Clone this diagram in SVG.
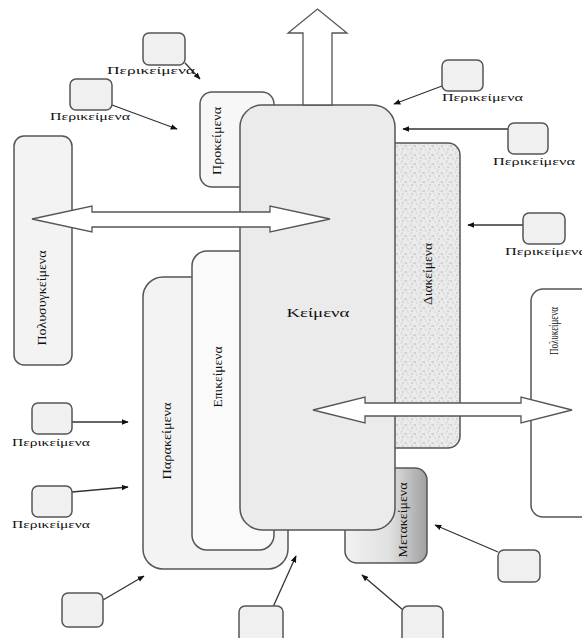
<svg xmlns="http://www.w3.org/2000/svg" width="582" height="638" viewBox="0 0 582 638">
<style>
.box{stroke:#555;stroke-width:1.5}
.sb{fill:#f0f0f0;stroke:#555;stroke-width:1.5}
.lbl{font-family:"Liberation Serif","Times New Roman",serif;font-size:10px;fill:#111}
.vt{font-family:"Liberation Serif","Times New Roman",serif;font-size:12px;fill:#111;text-anchor:middle}
.con{stroke:#333;stroke-width:1.3;fill:none;marker-end:url(#ah)}
.da{fill:#fff;stroke:#555;stroke-width:1.3}
</style>
<defs>
<marker id="ah" viewBox="0 0 10 10" refX="9" refY="5" markerWidth="7" markerHeight="7" orient="auto" markerUnits="userSpaceOnUse">
<path d="M0,1 L10,5 L0,9 z" fill="#111"/>
</marker>
<pattern id="stip" width="9" height="9" patternUnits="userSpaceOnUse">
<rect width="9" height="9" fill="#ebebeb"/>
<circle cx="1" cy="2" r="0.7" fill="#a4a4a4"/>
<circle cx="5" cy="1" r="0.6" fill="#bcbcbc"/>
<circle cx="7" cy="5" r="0.7" fill="#aaa"/>
<circle cx="3" cy="6" r="0.6" fill="#b8b8b8"/>
<circle cx="6" cy="8" r="0.5" fill="#a0a0a0"/>
<circle cx="2" cy="4" r="0.5" fill="#c8c8c8"/>
<circle cx="8" cy="2" r="0.5" fill="#b8b8b8"/>
</pattern>
<linearGradient id="mg" x1="0" y1="0" x2="1" y2="0">
<stop offset="0" stop-color="#f2f2f2"/>
<stop offset="0.55" stop-color="#e0e0e0"/>
<stop offset="1" stop-color="#a0a0a0"/>
</linearGradient>
</defs>

<g id="polykeimena">
<rect class="box" x="531" y="289" width="70" height="228" rx="12" fill="#fff"/>
<text class="vt" style="font-size:13px" transform="translate(558,331) rotate(-90)" textLength="48" lengthAdjust="spacingAndGlyphs">Πολυκείμενα</text>
</g>
<g id="diakeimena">
<rect class="box" x="380" y="143" width="80" height="305" rx="12" fill="url(#stip)"/>
<text class="vt" transform="translate(432,274) rotate(-90)" textLength="62" lengthAdjust="spacingAndGlyphs">Διακείμενα</text>
</g>
<g id="metakeimena">
<rect class="box" x="345" y="468" width="82" height="95" rx="12" fill="url(#mg)"/>
<text class="vt" transform="translate(407,520) rotate(-90)" textLength="75" lengthAdjust="spacingAndGlyphs">Μετακείμενα</text>
</g>
<g id="parakeimena">
<rect class="box" x="143" y="277" width="145" height="292" rx="20" fill="#f3f3f3"/>
<text class="vt" transform="translate(171,441) rotate(-90)" textLength="77" lengthAdjust="spacingAndGlyphs">Παρακείμενα</text>
</g>
<g id="epikeimena">
<rect class="box" x="192" y="251" width="82" height="299" rx="15" fill="#fafafa"/>
<text class="vt" transform="translate(222,377) rotate(-90)" textLength="61" lengthAdjust="spacingAndGlyphs">Επικείμενα</text>
</g>
<g id="prokeimena">
<rect class="box" x="200" y="92" width="74" height="95" rx="12" fill="#f7f7f7"/>
<text class="vt" transform="translate(221,141) rotate(-90)" textLength="68" lengthAdjust="spacingAndGlyphs">Προκείμενα</text>
</g>
<g id="polysygkeimena">
<rect class="box" x="14" y="136" width="58" height="229" rx="10" fill="#f3f3f3"/>
<text class="vt" transform="translate(46,298) rotate(-90)" textLength="95" lengthAdjust="spacingAndGlyphs">Πολυσυγκείμενα</text>
</g>
<g id="keimena">
<rect class="box" x="240" y="105" width="155" height="425" rx="22" fill="#ebebeb"/>
<text class="vt" x="318" y="317" textLength="63" lengthAdjust="spacingAndGlyphs">Κείμενα</text>
</g>

<g id="connectors">
<polygon class="da" points="303,105 303,33 288,33 317.5,9 347,33 332,33 332,105"/>
<polygon class="da" points="32,219 92,206 92,212 270,212 270,206 330,219 270,232 270,227 92,227 92,232"/>
<polygon class="da" points="313,410 365,397 365,403 521,403 521,397 572,410 521,423 521,416 365,416 365,423"/>
<line class="con" x1="185" y1="63" x2="200" y2="79"/>
<line class="con" x1="112" y1="105" x2="177" y2="129"/>
<line class="con" x1="442" y1="86" x2="394" y2="104"/>
<line class="con" x1="508" y1="129" x2="403" y2="129"/>
<line class="con" x1="523" y1="225" x2="468" y2="225"/>
<line class="con" x1="72" y1="422" x2="128" y2="422"/>
<line class="con" x1="72" y1="492" x2="128" y2="487"/>
<line class="con" x1="103" y1="600" x2="144" y2="576"/>
<line class="con" x1="273" y1="607" x2="296" y2="556"/>
<line class="con" x1="403" y1="610" x2="362" y2="575"/>
<line class="con" x1="498" y1="552" x2="435" y2="525"/>
</g>

<g id="p1"><rect class="sb" x="143" y="33" width="42" height="32" rx="6"/><text class="lbl" x="107" y="74" textLength="88" lengthAdjust="spacingAndGlyphs">Περικείμενα</text></g>
<g id="p2"><rect class="sb" x="70" y="79" width="42" height="31" rx="6"/><text class="lbl" x="50" y="120" textLength="80" lengthAdjust="spacingAndGlyphs">Περικείμενα</text></g>
<g id="p3"><rect class="sb" x="442" y="60" width="41" height="31" rx="6"/><text class="lbl" x="442" y="101" textLength="81" lengthAdjust="spacingAndGlyphs">Περικείμενα</text></g>
<g id="p4"><rect class="sb" x="508" y="123" width="40" height="31" rx="6"/><text class="lbl" x="493" y="165" textLength="82" lengthAdjust="spacingAndGlyphs">Περικείμενα</text></g>
<g id="p5"><rect class="sb" x="523" y="213" width="42" height="31" rx="6"/><text class="lbl" x="505" y="255" textLength="82" lengthAdjust="spacingAndGlyphs">Περικείμενα</text></g>
<g id="p6"><rect class="sb" x="32" y="403" width="40" height="31" rx="6"/><text class="lbl" x="12" y="446" textLength="78" lengthAdjust="spacingAndGlyphs">Περικείμενα</text></g>
<g id="p7"><rect class="sb" x="32" y="486" width="40" height="31" rx="6"/><text class="lbl" x="12" y="528" textLength="78" lengthAdjust="spacingAndGlyphs">Περικείμενα</text></g>
<g id="p8"><rect class="sb" x="62" y="593" width="41" height="34" rx="6"/></g>
<g id="p9"><rect class="sb" x="239" y="606" width="44" height="40" rx="6"/></g>
<g id="p10"><rect class="sb" x="402" y="606" width="41" height="40" rx="6"/></g>
<g id="p11"><rect class="sb" x="498" y="550" width="42" height="32" rx="6"/></g>
</svg>
